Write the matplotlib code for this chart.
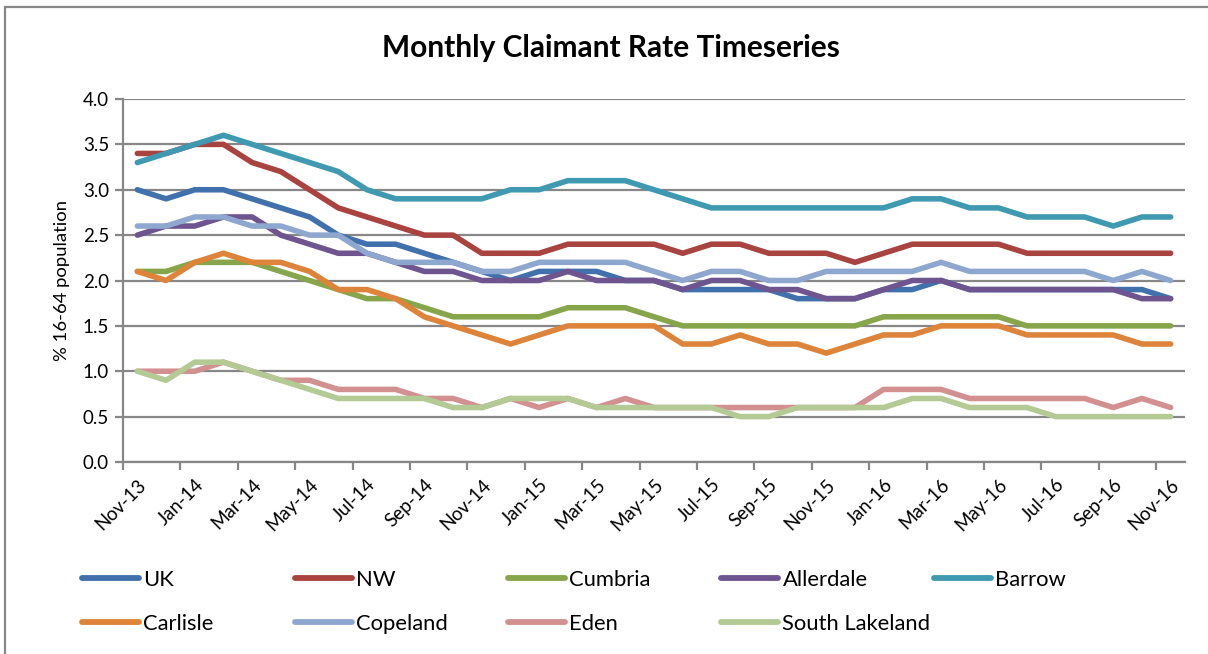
import matplotlib
matplotlib.use("Agg")
import matplotlib.pyplot as plt
from matplotlib.patches import Rectangle
from matplotlib.lines import Line2D

plt.rcParams['font.family'] = ['Lato', 'DejaVu Sans']

months = ['Nov-13', 'Dec-13', 'Jan-14', 'Feb-14', 'Mar-14', 'Apr-14', 'May-14', 'Jun-14',
          'Jul-14', 'Aug-14', 'Sep-14', 'Oct-14', 'Nov-14', 'Dec-14', 'Jan-15', 'Feb-15',
          'Mar-15', 'Apr-15', 'May-15', 'Jun-15', 'Jul-15', 'Aug-15', 'Sep-15', 'Oct-15',
          'Nov-15', 'Dec-15', 'Jan-16', 'Feb-16', 'Mar-16', 'Apr-16', 'May-16', 'Jun-16',
          'Jul-16', 'Aug-16', 'Sep-16', 'Oct-16', 'Nov-16']

uk = [3.0, 2.9, 3.0, 3.0, 2.9, 2.8, 2.7, 2.5, 2.4, 2.4, 2.3, 2.2, 2.1, 2.0, 2.1, 2.1, 2.1, 2.0, 2.0,
      1.9, 1.9, 1.9, 1.9, 1.8, 1.8, 1.8, 1.9, 1.9, 2.0, 1.9, 1.9, 1.9, 1.9, 1.9, 1.9, 1.9, 1.8]
nw = [3.4, 3.4, 3.5, 3.5, 3.3, 3.2, 3.0, 2.8, 2.7, 2.6, 2.5, 2.5, 2.3, 2.3, 2.3, 2.4, 2.4, 2.4, 2.4,
      2.3, 2.4, 2.4, 2.3, 2.3, 2.3, 2.2, 2.3, 2.4, 2.4, 2.4, 2.4, 2.3, 2.3, 2.3, 2.3, 2.3, 2.3]
cumbria = [2.1, 2.1, 2.2, 2.2, 2.2, 2.1, 2.0, 1.9, 1.8, 1.8, 1.7, 1.6, 1.6, 1.6, 1.6, 1.7, 1.7, 1.7, 1.6,
           1.5, 1.5, 1.5, 1.5, 1.5, 1.5, 1.5, 1.6, 1.6, 1.6, 1.6, 1.6, 1.5, 1.5, 1.5, 1.5, 1.5, 1.5]
allerdale = [2.5, 2.6, 2.6, 2.7, 2.7, 2.5, 2.4, 2.3, 2.3, 2.2, 2.1, 2.1, 2.0, 2.0, 2.0, 2.1, 2.0, 2.0, 2.0,
             1.9, 2.0, 2.0, 1.9, 1.9, 1.8, 1.8, 1.9, 2.0, 2.0, 1.9, 1.9, 1.9, 1.9, 1.9, 1.9, 1.8, 1.8]
barrow = [3.3, 3.4, 3.5, 3.6, 3.5, 3.4, 3.3, 3.2, 3.0, 2.9, 2.9, 2.9, 2.9, 3.0, 3.0, 3.1, 3.1, 3.1, 3.0,
          2.9, 2.8, 2.8, 2.8, 2.8, 2.8, 2.8, 2.8, 2.9, 2.9, 2.8, 2.8, 2.7, 2.7, 2.7, 2.6, 2.7, 2.7]
carlisle = [2.1, 2.0, 2.2, 2.3, 2.2, 2.2, 2.1, 1.9, 1.9, 1.8, 1.6, 1.5, 1.4, 1.3, 1.4, 1.5, 1.5, 1.5, 1.5,
            1.3, 1.3, 1.4, 1.3, 1.3, 1.2, 1.3, 1.4, 1.4, 1.5, 1.5, 1.5, 1.4, 1.4, 1.4, 1.4, 1.3, 1.3]
copeland = [2.6, 2.6, 2.7, 2.7, 2.6, 2.6, 2.5, 2.5, 2.3, 2.2, 2.2, 2.2, 2.1, 2.1, 2.2, 2.2, 2.2, 2.2, 2.1,
            2.0, 2.1, 2.1, 2.0, 2.0, 2.1, 2.1, 2.1, 2.1, 2.2, 2.1, 2.1, 2.1, 2.1, 2.1, 2.0, 2.1, 2.0]
eden = [1.0, 1.0, 1.0, 1.1, 1.0, 0.9, 0.9, 0.8, 0.8, 0.8, 0.7, 0.7, 0.6, 0.7, 0.6, 0.7, 0.6, 0.7, 0.6,
        0.6, 0.6, 0.6, 0.6, 0.6, 0.6, 0.6, 0.8, 0.8, 0.8, 0.7, 0.7, 0.7, 0.7, 0.7, 0.6, 0.7, 0.6]
south_lakeland = [1.0, 0.9, 1.1, 1.1, 1.0, 0.9, 0.8, 0.7, 0.7, 0.7, 0.7, 0.6, 0.6, 0.7, 0.7, 0.7, 0.6, 0.6, 0.6,
                  0.6, 0.6, 0.5, 0.5, 0.6, 0.6, 0.6, 0.6, 0.7, 0.7, 0.6, 0.6, 0.6, 0.5, 0.5, 0.5, 0.5, 0.5]

series = [
    ('UK', uk, '#4071AC'),
    ('NW', nw, '#A8433F'),
    ('Cumbria', cumbria, '#87A54B'),
    ('Allerdale', allerdale, '#6E558F'),
    ('Barrow', barrow, '#3F99B1'),
    ('Carlisle', carlisle, '#DD833A'),
    ('Copeland', copeland, '#8EA7CF'),
    ('Eden', eden, '#D29190'),
    ('South Lakeland', south_lakeland, '#B4CA94'),
]

W, H = 1208, 654
fig = plt.figure(figsize=(W / 100, H / 100), dpi=100)
ax = fig.add_axes([123 / W, 1 - 462 / H, (1185 - 123) / W, (462 - 99) / H])

x = list(range(len(months)))
handles = {}
for name, vals, col in series:
    line, = ax.plot(x, vals, color=col, lw=4.0, solid_joinstyle='round',
                    solid_capstyle='round', label=name)
    handles[name] = line

grid_col = '#878787'
ax.set_xlim(-0.5, len(months) - 0.5)
ax.set_ylim(0, 4.0)
ax.set_yticks([i * 0.5 for i in range(9)])
ax.set_yticklabels([f'{i * 0.5:.1f}' for i in range(9)], fontsize=13.5)
ax.yaxis.grid(True, color=grid_col, lw=1.6)
ax.set_axisbelow(True)

# tick marks on category boundaries, labels on every other category
ax.set_xticks([i - 0.5 for i in range(0, len(months) + 1, 2)])
ax.set_xticklabels([])
ax.set_xticks(x[::2], minor=True)
ax.set_xticklabels(months[::2], minor=True, rotation=45, ha='right',
                   rotation_mode='anchor', fontsize=13.5)
ax.tick_params(axis='x', which='minor', length=0, pad=10)
ax.tick_params(axis='x', which='major', length=6, width=1.6, color=grid_col)
ax.tick_params(axis='y', length=6, width=1.6, color=grid_col, pad=4)

for s in ['top', 'right']:
    ax.spines[s].set_visible(False)
for s in ['left', 'bottom']:
    ax.spines[s].set_color(grid_col)
    ax.spines[s].set_linewidth(1.6)

ax.set_ylabel('% 16-64 population', fontsize=13.3, labelpad=9)
fig.text(611 / W, 1 - 48 / H, 'Monthly Claimant Rate Timeseries', ha='center',
         va='center', fontsize=21.5, fontweight='bold')

# legend: five equal columns, two rows
columns = [['UK', 'Carlisle'], ['NW', 'Copeland'], ['Cumbria', 'Eden'],
           ['Allerdale', 'South Lakeland'], ['Barrow']]
for k, names in enumerate(columns):
    hs = [Line2D([], [], color=handles[n].get_color(), lw=4.2, solid_capstyle='round')
          for n in names]
    fig.legend(hs, names, loc='upper left',
               bbox_to_anchor=((82 + 213 * k) / W, 1 - 570 / H),
               frameon=False, fontsize=15.8, handlelength=2.6, handletextpad=0.2,
               labelspacing=1.1, borderpad=0, borderaxespad=0)

fig.patches.append(Rectangle((5 / W, -0.05), 1.1, 1 - 7 / H + 0.05,
                             transform=fig.transFigure, fill=False,
                             edgecolor=grid_col, lw=1.6))

fig.savefig('out.png', dpi=100)
